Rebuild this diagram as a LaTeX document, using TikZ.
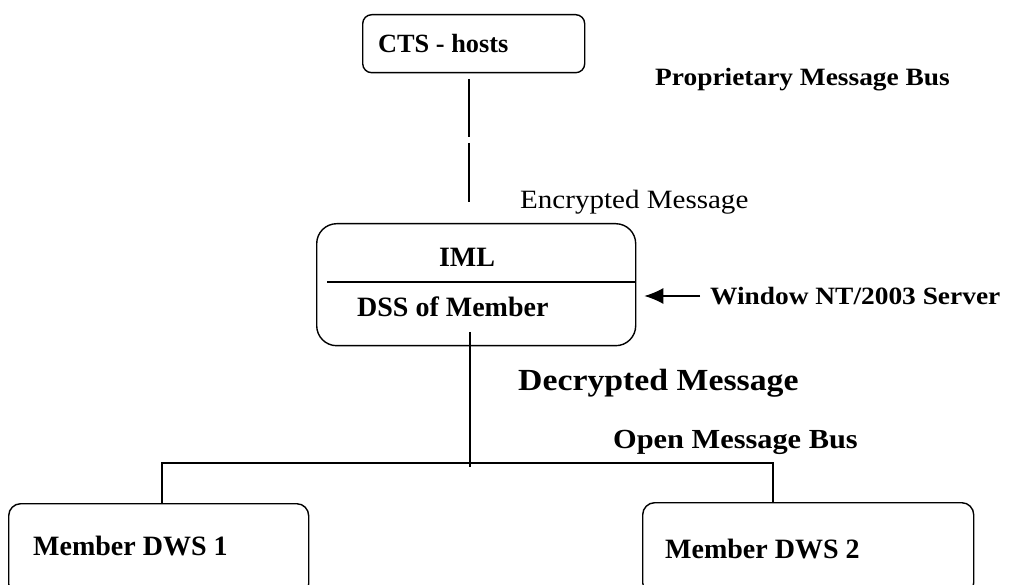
\documentclass[tikz,border=0pt]{standalone}
\usepackage{fontspec}
\setmainfont{Liberation Serif}
\newfontfamily\pal[FakeStretch=1.1]{Liberation Serif}
\usetikzlibrary{arrows.meta,calc}
\begin{document}
\begin{tikzpicture}[x=1pt,y=-1pt,
  box/.style={draw, line width=1.4pt, rounded corners=#1, inner sep=0pt, anchor=north west},
  boxlabel/.style={inner sep=0pt, font=\fontsize{28}{32}\selectfont\bfseries},
  note/.style={inner sep=0pt, anchor=base west},
  wire/.style={line width=1.2pt},
  busthick/.style={line width=2.6pt}]
\useasboundingbox (0,0) rectangle (1010,585);
% boxes
\node[box=9pt, minimum width=222pt, minimum height=58pt] (cts) at (362,14) {};
\node[box=20pt, minimum width=319pt, minimum height=122pt] (iml) at (316,223) {};
\node[box=12pt, minimum width=300pt, minimum height=92pt] (dws1) at (8,503) {};
\node[box=12pt, minimum width=331pt, minimum height=92pt] (dws2) at (642,502) {};
% box labels
\node[boxlabel, anchor=base west, font=\fontsize{26.3}{30}\selectfont\bfseries] (ctsl) at (378,53) {CTS - hosts};
\node[boxlabel, anchor=base] (imll) at (467,267) {IML};
\node[boxlabel, anchor=base west] (dssl) at (357,317) {DSS of Member};
\node[boxlabel, anchor=base west] (dws1l) at (33,555) {Member DWS 1};
\node[boxlabel, anchor=base west] (dws2l) at (665,558) {Member DWS 2};
% divider
\draw[wire] ($(iml.north west)+(11,59)$) -- ($(iml.north east)+(0,59)$);
% CTS to IML line with a gap
\coordinate (lnA) at (469,79);
\coordinate (lnB) at (469,137);
\coordinate (lnC) at (469,143);
\coordinate (lnD) at (469,202);
\draw[wire] (lnA) -- (lnB);
\draw[wire] (lnC) -- (lnD);
% arrow
\coordinate (arrS) at (700,296);
\draw[wire, -{Latex[length=19pt,width=16pt]}] (arrS) -- ($(iml.east |- arrS)+(8,0)$);
% center line down to bus
\coordinate (ctop) at (470,332);
\coordinate (cbot) at (470,467);
\draw[wire] (ctop) -- (cbot);
% bus
\coordinate (busL) at (162,463);
\coordinate (busR) at (773,463);
\coordinate (tk1) at (336,463);
\coordinate (tk2) at (680,463);
\draw[wire] (dws1.north -| busL) -- (busL) -- (busR) -- (dws2.north -| busR);
\draw[busthick] (tk1) -- (tk2);
% notes
\node[note, font=\pal\bfseries\fontsize{24.9}{28}\selectfont] (prop) at (655,86) {Proprietary Message Bus};
\node[note, font=\pal\fontsize{26.4}{30}\selectfont] (enc) at (520,209) {Encrypted Message};
\node[note, font=\pal\bfseries\fontsize{24.9}{28}\selectfont] (win) at (710,305) {Window NT/2003 Server};
\node[note, font=\pal\bfseries\fontsize{30.7}{34}\selectfont] (dec) at (518,391) {Decrypted Message};
\node[note, font=\pal\bfseries\fontsize{27.6}{30}\selectfont] (open) at (613,449) {Open Message Bus};
\end{tikzpicture}
\end{document}
